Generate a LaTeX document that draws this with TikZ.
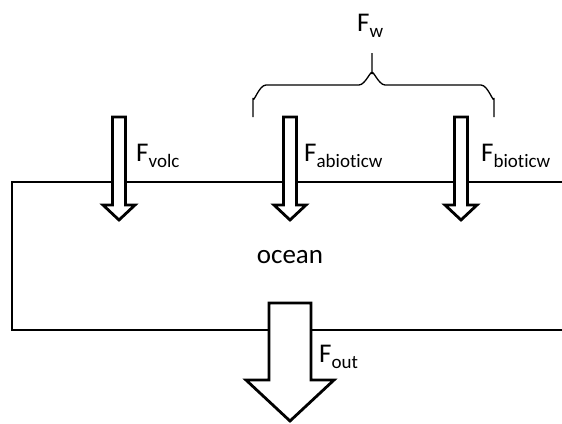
\documentclass[tikz,border=0pt]{standalone}
\usepackage{fontspec}
\setmainfont{Carlito}[RawFeature={-liga;-clig;-calt;-dlig}]
\usepackage{tikz}
\usetikzlibrary{positioning}
\newcommand{\fluxtext}[1]{F\raisebox{-6pt}{\fontsize{19}{19}\selectfont #1}}
\tikzset{
    % Line styles
    oceanline/.style={
        draw=black,
        line width=2.8pt
    },
    fluxarrow/.style={
        draw=black,
        fill=white,
        line width=2.8pt,
        line join=miter
    },
    bracestyle/.style={
        draw=black,
        line width=1.3pt
    },
    % Text styles
    fluxlabel/.style={
        anchor=base west,
        inner sep=0pt,
        font=\fontsize{27}{27}\selectfont
    }
}
\begin{document}
\begin{tikzpicture}[x=1pt,y=-1pt]
            \useasboundingbox (0,0) rectangle (562,423);

            % Ocean box (open to the right)
            \draw[oceanline] (562,182) -- (12,182) -- (12,330) -- (562,330);
            \node[font=\fontsize{27}{27}\selectfont,inner sep=0pt] (ocean) at (290,257) {ocean};

            % Input fluxes
            \filldraw[fluxarrow] (112.5,117) -- (125.5,117) -- (125.5,205) -- (135,205)
                -- (119,220) -- (103,205) -- (112.5,205) -- cycle;
            \filldraw[fluxarrow] (283.5,117) -- (296.5,117) -- (296.5,205) -- (306,205)
                -- (290,220) -- (274,205) -- (283.5,205) -- cycle;
            \filldraw[fluxarrow] (454.5,117) -- (467.5,117) -- (467.5,205) -- (477,205)
                -- (461,220) -- (445,205) -- (454.5,205) -- cycle;

            \node[fluxlabel] (volc) at (136,161) {\fluxtext{volc}};
            \node[fluxlabel] (abiotic) at (304,161) {\fluxtext{abioticw}};
            \node[fluxlabel] (biotic) at (481,161) {\fluxtext{bioticw}};

            % Weathering brace
            \draw[bracestyle] (253,117) -- (253,98) to[out=-90,in=180] (266,85) -- (359,85)
                to[out=0,in=90] (372,74) -- (372,53);
            \draw[bracestyle] (494,117) -- (494,98) to[out=-90,in=0] (481,85) -- (385,85)
                to[out=180,in=90] (372,74);
            \node[fluxlabel] (weath) at (357,31) {\fluxtext{w}};

            % Output flux
            \filldraw[fluxarrow] (269,303) -- (311,303) -- (311,380) -- (334,380)
                -- (290,421) -- (246,380) -- (269,380) -- cycle;
            \node[fluxlabel] (out) at (319,362) {\fluxtext{out}};
        \end{tikzpicture}
\end{document}
